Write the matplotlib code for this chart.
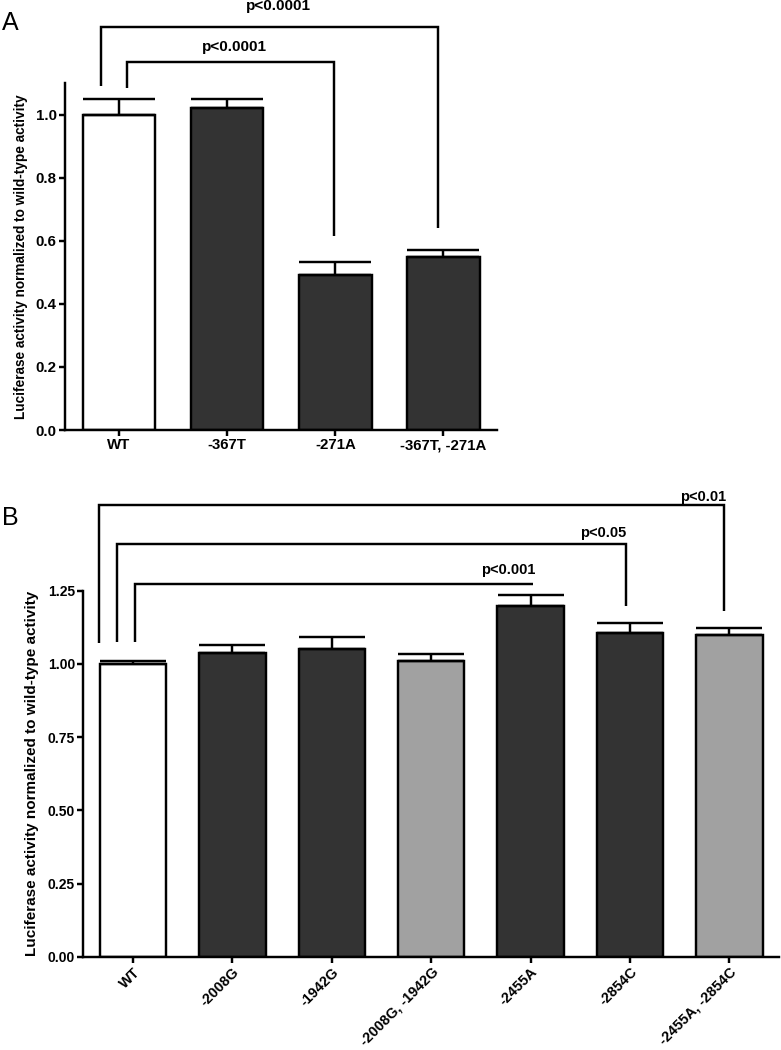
import matplotlib
matplotlib.use("Agg")
import matplotlib.pyplot as plt

# ---------------- data ----------------
a_labels = ["WT", "-367T", "-271A", "-367T, -271A"]
a_values = [1.00, 1.02, 0.49, 0.55]
a_errors = [0.048, 0.028, 0.043, 0.021]
a_colors = ["#ffffff", "#333333", "#333333", "#333333"]

b_labels = ["WT", "-2008G", "-1942G", "-2008G, -1942G", "-2455A", "-2854C", "-2455A, -2854C"]
b_values = [1.000, 1.036, 1.051, 1.011, 1.198, 1.105, 1.098]
b_errors = [0.010, 0.027, 0.041, 0.024, 0.039, 0.034, 0.024]
b_colors = ["#ffffff", "#333333", "#333333", "#a1a1a1", "#333333", "#333333", "#a1a1a1"]

a_pvals = ["p<0.0001", "p<0.0001"]
b_pvals = ["p<0.01", "p<0.05", "p<0.001"]

ylabel = "Luciferase activity normalized to wild-type activity"

# ---------------- style ----------------
plt.rcParams["font.family"] = ["Liberation Sans", "DejaVu Sans"]
plt.rcParams["font.weight"] = "bold"
LW = 1.75

W, H = 781, 1050
fig = plt.figure(figsize=(W / 100, H / 100), dpi=100)


def px_axes(left, right, top, bottom):
    return fig.add_axes([left / W, 1 - bottom / H, (right - left) / W, (bottom - top) / H])


def style_axes(ax, fs):
    for s in ("top", "right"):
        ax.spines[s].set_visible(False)
    for s in ("left", "bottom"):
        ax.spines[s].set_linewidth(LW)
    ax.tick_params(direction="out", length=4, width=LW, labelsize=fs, pad=2)


def bracket(ax, xl, xr, ytop, yl, yr=None):
    xs = [xl, xl, xr]
    ys = [yl, ytop, ytop]
    if yr is not None:
        xs.append(xr)
        ys.append(yr)
    ax.plot(xs, ys, color="black", lw=LW, clip_on=False, solid_joinstyle="miter",
            solid_capstyle="butt")


# ---------------- panel A ----------------
axA = px_axes(65, 497.5, 83, 430)
xa = list(range(len(a_values)))
axA.bar(xa, a_values, width=0.67, color=a_colors, edgecolor="black", linewidth=LW, zorder=2)
axA.errorbar(xa, a_values, yerr=[[0] * len(a_errors), a_errors], fmt="none",
             ecolor="black", elinewidth=LW, capsize=26, capthick=LW, zorder=3)
axA.set_xlim(-0.5, len(a_values) - 0.5)
axA.set_ylim(0, 1.1)
at = [0.0, 0.2, 0.4, 0.6, 0.8, 1.0]
axA.set_yticks(at)
axA.set_yticklabels([f"{v:.1f}" for v in at])
axA.set_xticks(xa)
axA.set_xticklabels(a_labels)
style_axes(axA, 10.8)
axA.set_ylabel(ylabel, fontsize=9.8, fontweight="bold")
axA.yaxis.set_label_coords(-0.085, 0.5)

bracket(axA, -0.167, 2.95, 1.276, 1.089, 0.641)
bracket(axA, 0.07, 1.99, 1.168, 1.083, 0.616)
axA.text(1.47, 1.330, a_pvals[0], ha="center", va="baseline", fontsize=11, fontweight="bold")
axA.text(1.07, 1.200, a_pvals[1], ha="center", va="baseline", fontsize=11, fontweight="bold")

# ---------------- panel B ----------------
axB = px_axes(83.3, 779.1, 590.7, 956.7)
xb = list(range(len(b_values)))
axB.bar(xb, b_values, width=0.67, color=b_colors, edgecolor="black", linewidth=LW, zorder=2)
axB.errorbar(xb, b_values, yerr=[[0] * len(b_errors), b_errors], fmt="none",
             ecolor="black", elinewidth=LW, capsize=24, capthick=LW, zorder=3)
axB.set_xlim(-0.5, len(b_values) - 0.5)
axB.set_ylim(0, 1.25)
bt = [0.0, 0.25, 0.5, 0.75, 1.0, 1.25]
axB.set_yticks(bt)
axB.set_yticklabels([f"{v:.2f}" for v in bt])
axB.set_xticks(xb)
axB.set_xticklabels(b_labels, rotation=45, ha="right", va="top", rotation_mode="anchor")
style_axes(axB, 10.4)
axB.tick_params(axis="y", labelsize=10)
axB.set_ylabel(ylabel, fontsize=11, fontweight="bold")
axB.yaxis.set_label_coords(-0.064, 0.5)

bracket(axB, -0.346, 5.948, 1.541, 1.071, 1.179)
bracket(axB, -0.161, 4.957, 1.410, 1.074, 1.199)
bracket(axB, 0.017, 4.022, 1.273, 1.074, None)
axB.text(5.736, 1.558, b_pvals[0], ha="center", va="baseline", fontsize=10.5, fontweight="bold")
axB.text(4.728, 1.433, b_pvals[1], ha="center", va="baseline", fontsize=10.5, fontweight="bold")
axB.text(3.780, 1.307, b_pvals[2], ha="center", va="baseline", fontsize=10.5, fontweight="bold")

# ---------------- panel letters ----------------
fig.text(10 / W, 1 - 23 / H, "A", ha="center", va="center", fontsize=18, fontweight="normal")
fig.text(10 / W, 1 - 518 / H, "B", ha="center", va="center", fontsize=18, fontweight="normal")

fig.savefig("out.png", dpi=100)
